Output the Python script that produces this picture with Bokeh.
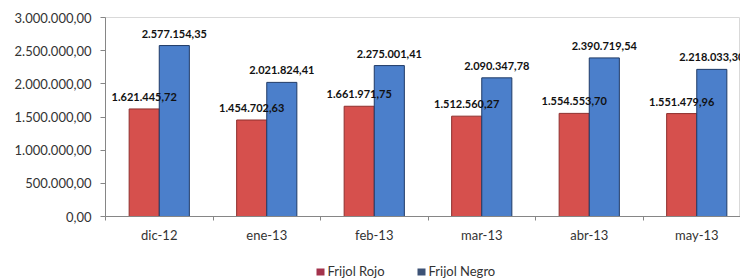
from bokeh.plotting import figure
from bokeh.layouts import column
from bokeh.models import Range1d, FixedTicker, LabelSet, ColumnDataSource
from bokeh.core.properties import value
from bokeh.embed import file_html
from bokeh.resources import INLINE

categories = ["dic-12", "ene-13", "feb-13", "mar-13", "abr-13", "may-13"]
frijol_rojo = [1621445.72, 1454702.63, 1661971.75, 1512560.27, 1554553.70, 1551479.96]
frijol_negro = [2577154.35, 2021824.41, 2275001.41, 2090347.78, 2390719.54, 2218033.30]
y_ticks = [0, 500000, 1000000, 1500000, 2000000, 2500000, 3000000]
series_names = ["Frijol Rojo", "Frijol Negro"]


def fmt(v):
    s = f"{v:,.2f}"
    return s.replace(",", "X").replace(".", ",").replace("X", ".")


FONT = "Lato"
RED = "#D6504D"
BLUE = "#4B7FCB"

idx = list(range(len(categories)))
centers = [i + 0.5 for i in idx]
bw = 0.28

src = ColumnDataSource(dict(
    xr=[c - bw / 2 for c in centers],
    xb=[c + bw / 2 for c in centers],
    rojo=frijol_rojo,
    negro=frijol_negro,
    lr=[fmt(v) for v in frijol_rojo],
    lb=[fmt(v) for v in frijol_negro],
))

W, H, HL = 740, 262, 16
left, right, top, bottom = 105, 0, 17, 46
frame_w = W - left - right
cat_px = 107.5

p = figure(width=W, height=H, output_backend="svg", toolbar_location=None,
           x_range=Range1d(0, frame_w / cat_px), y_range=Range1d(0, 3000000),
           min_border_left=left, min_border_right=right, min_border_top=top,
           min_border_bottom=bottom)
p.background_fill_color = "white"
p.border_fill_color = "white"
p.outline_line_color = "#D9D9D9"
p.xgrid.visible = False
p.ygrid.visible = False

p.vbar(x="xr", top="rojo", width=bw, source=src, fill_color=RED,
       line_color="#8E2F2D", line_width=1)
p.vbar(x="xb", top="negro", width=bw, source=src, fill_color=BLUE,
       line_color="#1F3A66", line_width=1)

for col, xcol in (("lr", "xr"), ("lb", "xb")):
    ycol = "rojo" if col == "lr" else "negro"
    p.add_layout(LabelSet(x=xcol, y=ycol, text=col, source=src, y_offset=12,
                          text_align="center", text_baseline="middle",
                          text_font=value(FONT), text_font_style="bold",
                          text_font_size="11px", text_color="#111111"))

# y axis
ya = p.yaxis[0]
ya.ticker = FixedTicker(ticks=y_ticks)
ya.major_label_overrides = {t: fmt(t) for t in y_ticks}
ya.major_tick_out = 5
ya.major_tick_in = 0
ya.minor_tick_out = 0
ya.minor_tick_in = 0
ya.major_label_standoff = 9
ya.axis_line_color = "#868686"
ya.major_tick_line_color = "#868686"
ya.major_label_text_font = FONT
ya.major_label_text_font_size = "13px"
ya.major_label_text_color = "#333333"

# x axis
xa = p.xaxis[0]
xa.ticker = FixedTicker(ticks=centers, minor_ticks=list(range(len(categories) + 1)))
xa.major_label_overrides = {c: n for c, n in zip(centers, categories)}
xa.major_tick_out = 0
xa.major_tick_in = 0
xa.minor_tick_out = 4
xa.minor_tick_in = 0
xa.minor_tick_line_color = "#868686"
xa.axis_line_color = "#868686"
xa.major_label_standoff = 6
xa.major_label_text_font = FONT
xa.major_label_text_font_size = "13px"
xa.major_label_text_color = "#333333"

# legend strip (separate small figure under the chart; its frame is aligned
# with the chart frame by the column layout, so x runs from `left` to W)
pl = figure(width=W, height=HL, output_backend="svg", toolbar_location=None,
            x_range=Range1d(left, W), y_range=Range1d(0, HL),
            x_axis_location=None, y_axis_location=None,
            min_border_left=0, min_border_right=0, min_border_top=0,
            min_border_bottom=0, outline_line_color=None)
pl.xgrid.visible = False
pl.ygrid.visible = False
pl.background_fill_color = "white"
pl.border_fill_color = "white"
leg_src = ColumnDataSource(dict(
    left=[316, 417], right=[324, 425], bottom=[3, 3], top=[10, 10],
    color=["#A3334C", "#3D5276"], tx=[327, 428], ty=[8, 8], label=series_names,
))
pl.quad(left="left", right="right", bottom="bottom", top="top",
        fill_color="color", line_color=None, source=leg_src)
pl.text(x="tx", y="ty", text="label", source=leg_src, text_font=value(FONT),
        text_font_size="13px", text_color="#333333", text_baseline="middle",
        text_align="left")

layout = column(p, pl, spacing=0)
open("out.html", "w").write(file_html(layout, INLINE))
